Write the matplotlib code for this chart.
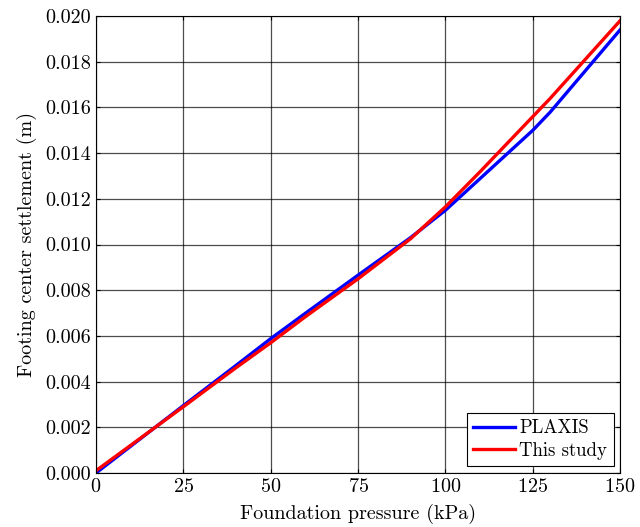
import matplotlib
matplotlib.use("Agg")
import matplotlib.pyplot as plt
import numpy as np

plt.rcParams['font.family'] = ['cmr10', 'DejaVu Serif']
plt.rcParams['axes.formatter.use_mathtext'] = True

# foundation pressure (kPa) vs settlement (m)
p_plaxis = [0, 10, 25, 40, 50, 60, 75, 90, 100, 110, 120, 125, 130, 140, 150]
s_plaxis = [0.0000, 0.00118, 0.00295, 0.0047, 0.00588, 0.0070, 0.00866, 0.0103,
            0.0115, 0.0129, 0.0143, 0.0150, 0.0158, 0.0176, 0.0194]

p_study = [0, 10, 25, 40, 50, 60, 75, 90, 100, 110, 120, 125, 130, 140, 150]
s_study = [0.0001, 0.00122, 0.0029, 0.0046, 0.0057, 0.00685, 0.0085, 0.01025,
           0.01165, 0.0132, 0.0148, 0.0156, 0.0164, 0.0181, 0.0198]

xticks = [0, 25, 50, 75, 100, 125, 150]
yticks = [0.000, 0.002, 0.004, 0.006, 0.008, 0.010, 0.012, 0.014, 0.016, 0.018, 0.020]

fig = plt.figure(figsize=(6.4, 5.27), dpi=100)
ax = fig.add_axes([0.15, 0.1025, 0.819, 0.867])

ax.plot(p_plaxis, s_plaxis, color='#0000ff', lw=2.4, label='PLAXIS')
ax.plot(p_study, s_study, color='#ff0000', lw=2.4, label='This study')

ax.set_xlim(0, 150)
ax.set_ylim(0, 0.020)
ax.set_xticks(xticks)
ax.set_yticks(yticks)
ax.set_yticklabels(['%.3f' % v for v in yticks])
ax.grid(True, color='black', lw=0.9, alpha=0.7)
ax.tick_params(direction='in', length=3, top=True, right=True, labelsize=14.5)
for sp in ax.spines.values():
    sp.set_linewidth(0.8)

ax.set_xlabel('Foundation pressure (kPa)', fontsize=14.5, labelpad=6)
ax.set_ylabel('Footing center settlement (m)', fontsize=14.5, labelpad=6)

leg = ax.legend(loc='lower right', fontsize=13.5, fancybox=False, framealpha=1,
                edgecolor='black', borderaxespad=0.35, handlelength=2.25,
                handletextpad=0.2, borderpad=0.35, labelspacing=0.25)
leg.get_frame().set_linewidth(0.8)

fig.savefig('out.png', dpi=100)
